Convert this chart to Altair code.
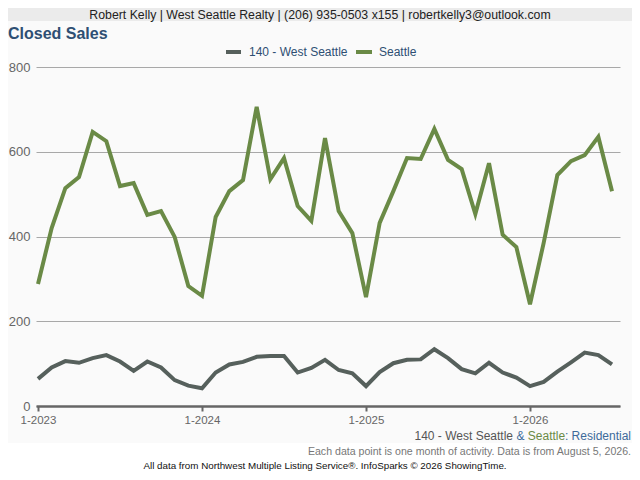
import altair as alt
import pandas as pd

months = [f"{(i % 12) + 1}-{2023 + i // 12}" for i in range(43)]
west_seattle = [64, 91, 106, 102, 113, 120, 105, 83, 105, 91, 61, 48,
                42, 79, 98, 104, 116, 118, 118, 79, 90, 109, 85, 77,
                47, 80, 101, 109, 110, 134, 113, 87, 77, 102, 79, 67,
                47, 57, 81, 103, 126, 120, 98]
seattle = [288, 420, 514, 540, 647, 625, 519, 526, 451, 460, 399, 283,
           260, 446, 507, 533, 706, 535, 585, 472, 437, 632, 460, 408,
           257, 432, 507, 585, 583, 654, 581, 559, 453, 573, 404, 375,
           240, 385, 545, 578, 592, 635, 507]
series_names = ["140 - West Seattle", "Seattle"]
series_colors = ["#56605c", "#6a8a46"]
year_ticks = [0, 12, 24, 36]
y_ticks = [0, 200, 400, 600, 800]

rows = []
for i, m in enumerate(months):
    rows.append({"idx": i, "month": m, "series": series_names[0], "value": west_seattle[i]})
    rows.append({"idx": i, "month": m, "series": series_names[1], "value": seattle[i]})
df = pd.DataFrame(rows)

SVG_W, SVG_H = 624, 464
PAD_L, PAD_T = 28, 59
PX0, PY0 = 8 + PAD_L, 8 + PAD_T
W, H = 620 - PX0, 339
FONT = "Liberation Sans"


def px(X):
    return X - PX0


def py(Y):
    return Y - PY0


one = pd.DataFrame({"a": [0]})

bottom_white = alt.Chart(one).mark_rect(color="#ffffff").encode(
    x=alt.value(px(0)), x2=alt.value(px(640)), y=alt.value(py(443)), y2=alt.value(py(490)))

banner = alt.Chart(one).mark_rect(color="#ebebeb").encode(
    x=alt.value(px(0)), x2=alt.value(px(640)), y=alt.value(py(0)), y2=alt.value(py(21)))

lines = alt.Chart(df).mark_line(strokeWidth=4).encode(
    x=alt.X("idx:Q", scale=alt.Scale(domain=[-2 / 13.667, (W - 2) / 13.667], nice=False, zero=False),
            axis=alt.Axis(values=year_ticks, title=None, grid=False,
                          labelExpr="'1-' + (2023 + datum.value / 12)",
                          domainColor="#666666", domainWidth=2.5,
                          tickColor="#666666", tickWidth=2, tickSize=5,
                          labelColor="#666666", labelFontSize=11.5, labelFont=FONT,
                          labelPadding=3)),
    y=alt.Y("value:Q", scale=alt.Scale(domain=[0, 800], nice=False),
            axis=alt.Axis(values=y_ticks, title=None, domain=False, ticks=False,
                          gridColor="#a8a8a8", gridWidth=1,
                          labelColor="#666666", labelFontSize=13, labelFont=FONT,
                          labelPadding=6)),
    color=alt.Color("series:N", scale=alt.Scale(domain=series_names, range=series_colors),
                    legend=None),
    detail="series:N",
)


def txt(s, X, Y, size, color, align="left", weight="normal"):
    return alt.Chart(pd.DataFrame({"t": [s]})).mark_text(
        align=align, baseline="middle", fontSize=size, font=FONT,
        color=color, fontWeight=weight).encode(
        x=alt.value(px(X)), y=alt.value(py(Y)), text="t:N")


def swatch(X1, X2, Y, color):
    return alt.Chart(one).mark_rule(strokeWidth=4, color=color).encode(
        x=alt.value(px(X1)), x2=alt.value(px(X2)), y=alt.value(py(Y)))


R = 631
layers = [
    bottom_white, banner, lines,
    txt("Robert Kelly | West Seattle Realty | (206) 935-0503 x155 | robertkelly3@outlook.com",
        320, 14.5, 12.3, "#222222", align="center"),
    txt("Closed Sales", 8, 34, 16, "#2e4f73", weight="bold"),
    swatch(226, 241, 52, series_colors[0]),
    txt(series_names[0], 249, 52, 12, "#2e4f73"),
    swatch(356, 372, 52, series_colors[1]),
    txt(series_names[1], 379, 52, 12, "#2e4f73"),
    txt("140 - West Seattle", R - 216.5, 436, 12, "#555555"),
    txt("&", R - 114.5, 436, 12, "#3d6a9a"),
    txt("Seattle", R - 103.2, 436, 12, "#6a8a46"),
    txt(": Residential", R, 436, 12, "#3d6a9a", align="right"),
    txt("Each data point is one month of activity. Data is from August 5, 2026.",
        R, 452, 10.6, "#777777", align="right"),
    txt("All data from Northwest Multiple Listing Service\u00ae. InfoSparks \u00a9 2026 ShowingTime.",
        325, 466, 9.8, "#111111", align="center"),
]

chart = alt.layer(*layers).properties(
    width=W, height=H,
    autosize=alt.AutoSizeParams(type="none"),
    padding={"left": PAD_L, "top": PAD_T, "right": SVG_W - PAD_L - W,
             "bottom": SVG_H - PAD_T - H},
    background="#fafafa",
).configure_view(stroke=None)

chart.save("out.html", embed_options={"renderer": "svg", "actions": False})
